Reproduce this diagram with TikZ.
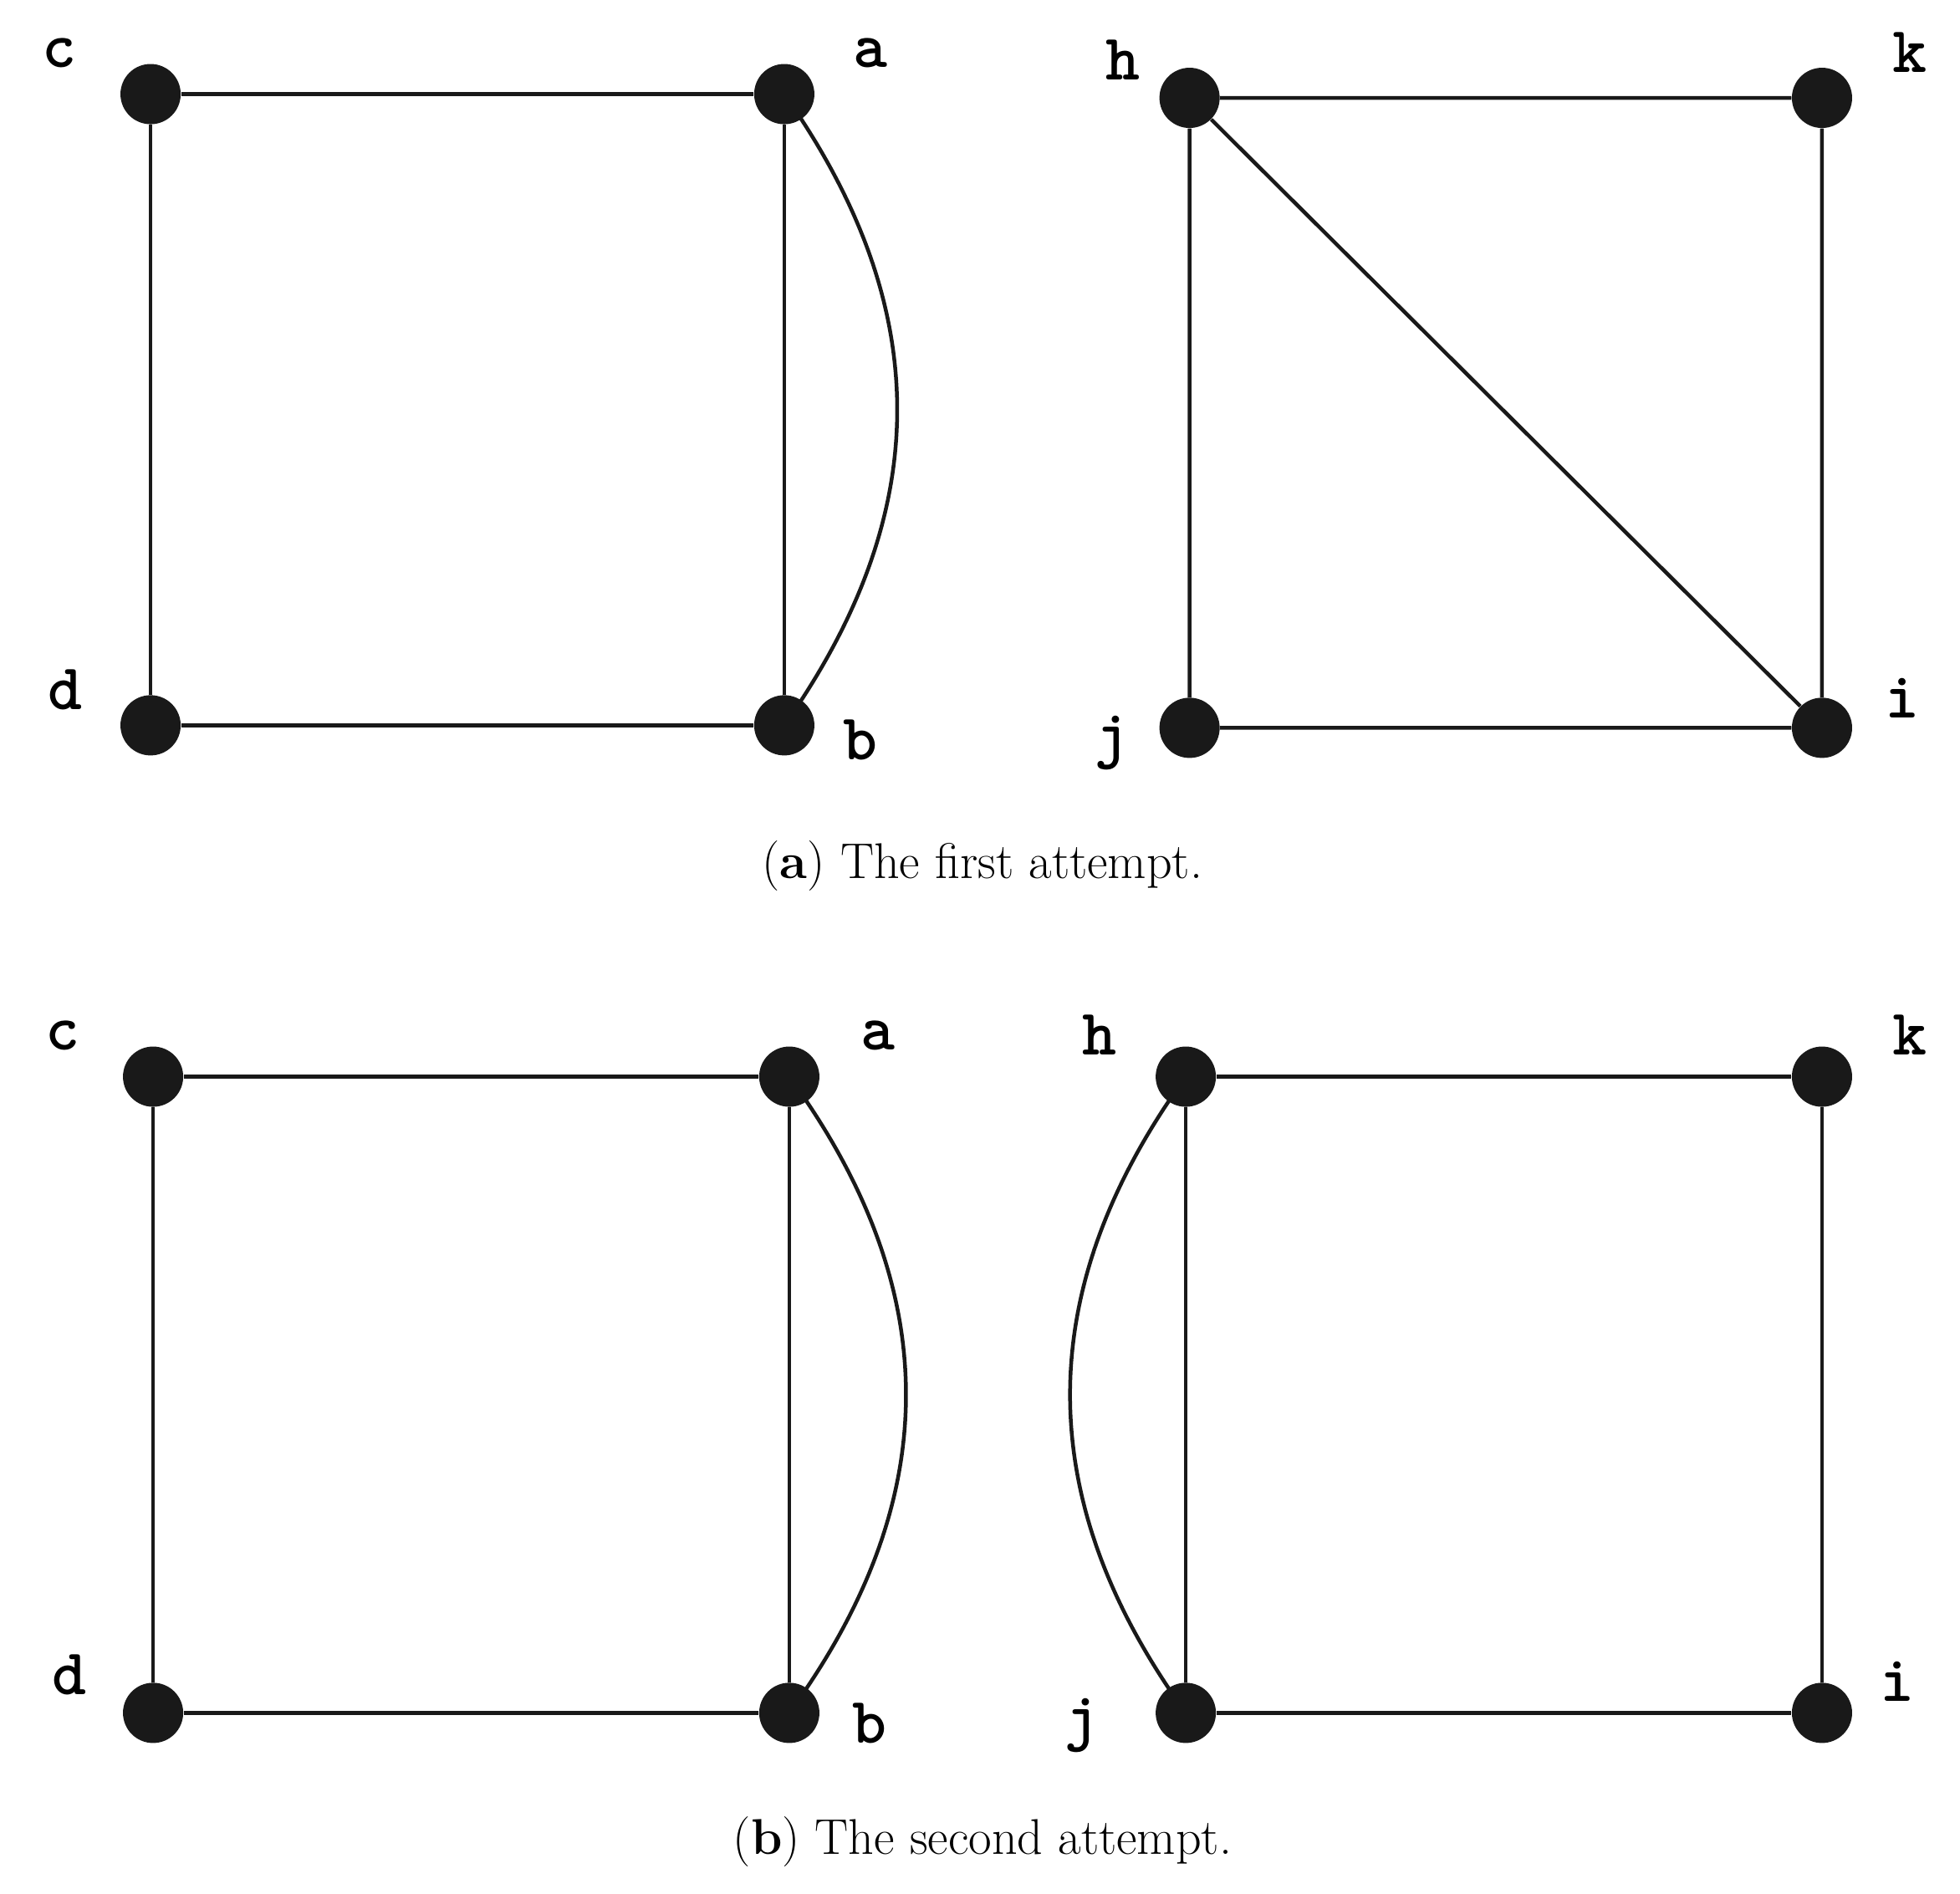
\documentclass[tikz,border=0pt]{standalone}
\begin{document}
\begin{tikzpicture}[x=0.5pt,y=-0.5pt,
  v/.style={circle,fill=black!90,inner sep=0pt,minimum size=24pt},
  e/.style={line width=1.5pt,black!90},
  lab/.style={font=\fontsize{26}{30}\selectfont\ttfamily\bfseries},
  captxt/.style={font=\fontsize{20}{24}\selectfont}]
\useasboundingbox (0,0) rectangle (1562,1509);
% top
\node[v] (c1) at (120,75) {}; \node[v] (a1) at (625,75) {};
\node[v] (d1) at (120,578) {}; \node[v] (b1) at (625,578) {};
\node[v] (h1) at (948,78) {}; \node[v] (k1) at (1452,78) {};
\node[v] (j1) at (948,580) {}; \node[v] (i1) at (1452,580) {};
\draw[e] (c1)--(a1) (c1)--(d1) (d1)--(b1) (a1)--(b1);
\draw[e] (a1.center) .. controls +(120,170) and +(120,-170) .. (b1.center);
\draw[e] (h1)--(k1) (h1)--(j1) (j1)--(i1) (k1)--(i1) (h1)--(i1);
\node[lab] (lc1) at (47,42) {c}; \node[lab] (la1) at (694,42) {a};
\node[lab] (ld1) at (52,550) {d}; \node[lab] (lb1) at (686,590) {b};
\node[lab] (lh1) at (895,48) {h}; \node[lab] (lk1) at (1522,42) {k};
\node[lab] (lj1) at (886,592) {j}; \node[lab] (li1) at (1516,556) {i};
\node[captxt] (capa) at (783,690) {(\textbf{a}) The first attempt.};
% bottom
\node[v] (c2) at (122,858) {}; \node[v] (a2) at (629,858) {};
\node[v] (d2) at (122,1365) {}; \node[v] (b2) at (629,1365) {};
\node[v] (h2) at (945,858) {}; \node[v] (k2) at (1452,858) {};
\node[v] (j2) at (945,1365) {}; \node[v] (i2) at (1452,1365) {};
\draw[e] (c2)--(a2) (c2)--(d2) (d2)--(b2) (a2)--(b2);
\draw[e] (a2.center) .. controls +(124,170) and +(124,-170) .. (b2.center);
\draw[e] (h2)--(k2) (h2)--(j2) (j2)--(i2) (k2)--(i2);
\draw[e] (h2.center) .. controls +(-123,170) and +(-123,-170) .. (j2.center);
\node[lab] (lc2) at (50,825) {c}; \node[lab] (la2) at (700,825) {a};
\node[lab] (ld2) at (55,1335) {d}; \node[lab] (lb2) at (693,1373) {b};
\node[lab] (lh2) at (876,825) {h}; \node[lab] (lk2) at (1522,825) {k};
\node[lab] (lj2) at (862,1375) {j}; \node[lab] (li2) at (1512,1340) {i};
\node[captxt] (capb) at (783,1468) {(\textbf{b}) The second attempt.};
\end{tikzpicture}
\end{document}
